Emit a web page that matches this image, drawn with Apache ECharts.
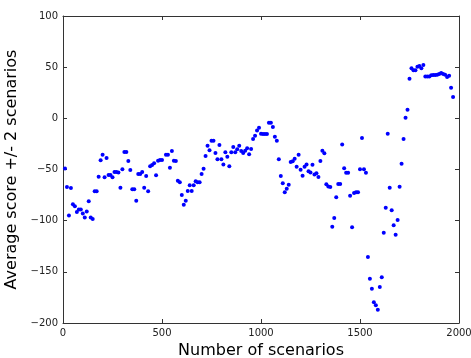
<!DOCTYPE html>
<html>
<head>
<meta charset="utf-8">
<script src="https://cdn.jsdelivr.net/npm/echarts@6/dist/echarts.min.js"></script>
<style>
html,body{margin:0;padding:0;background:#fff;}
#chart{width:471px;height:358px;}
</style>
</head>
<body>
<div id="chart"></div>
<script>
const xTicks = [0, 500, 1000, 1500, 2000];
const yTicks = [-200, -150, -100, -50, 0, 50, 100];

const scenarios = [
  10, 20, 30, 40, 50, 60, 70, 80, 90, 100,
  110, 120, 130, 140, 150, 160, 170, 180, 190, 200,
  210, 220, 230, 240, 250, 260, 270, 280, 290, 300,
  310, 320, 330, 340, 350, 360, 370, 380, 390, 400,
  410, 420, 430, 440, 450, 460, 470, 480, 490, 500,
  520, 530, 540, 550, 560, 570, 580, 590, 600, 610,
  620, 630, 640, 650, 660, 670, 680, 690, 700, 710,
  720, 730, 740, 750, 760, 770, 780, 790, 800, 810,
  820, 830, 840, 850, 860, 870, 880, 890, 900, 910,
  920, 930, 940, 950, 960, 970, 980, 990, 1000, 1010,
  1020, 1030, 1040, 1050, 1060, 1070, 1080, 1090, 1100, 1110,
  1120, 1130, 1140, 1150, 1160, 1170, 1180, 1190, 1200, 1210,
  1220, 1230, 1240, 1250, 1260, 1270, 1280, 1290, 1300, 1310,
  1320, 1330, 1340, 1350, 1360, 1370, 1380, 1390, 1400, 1410,
  1420, 1430, 1440, 1450, 1460, 1470, 1480, 1490, 1500, 1510,
  1520, 1530, 1540, 1550, 1560, 1570, 1580, 1590, 1600, 1610,
  1620, 1630, 1640, 1650, 1660, 1670, 1680, 1690, 1700, 1710,
  1720, 1730, 1740, 1750, 1760, 1770, 1780, 1790, 1800, 1810,
  1820, 1830, 1840, 1850, 1860, 1870, 1880, 1890, 1900, 1910,
  1920, 1930, 1940, 1950, 1960, 1970
];

const scores = [
  -49, -67, -95, -68, -84, -86, -91.5, -89, -89, -93,
  -97, -91, -81, -97, -98.4, -71.3, -71.3, -57, -41, -35.5,
  -57.6, -38.8, -55.4, -55.4, -57.6, -52.5, -52.5, -53, -67.8, -49.8,
  -33, -33, -41.7, -50.5, -69.4, -69.4, -80.5, -54.4, -54.4, -52.5,
  -67.8, -56.4, -71.3, -46.9, -45.6, -44, -55.7, -41.4, -40.7, -40.7,
  -35.5, -35.5, -48.2, -32, -41.4, -41.7, -61, -62.5, -75, -84.4,
  -80.5, -71, -65.5, -71, -65.5, -61.5, -62.5, -62.5, -54.4, -49.2,
  -36.8, -26.7, -31.3, -21.9, -21.9, -33.9, -40.1, -26, -40, -45,
  -33.2, -37.5, -46.9, -33.2, -28, -33.2, -30.3, -26.7, -32, -33.9,
  -31.6, -29.3, -35.2, -30, -20.2, -17, -12, -9.2, -15, -15.3,
  -15.3, -15.3, -4.3, -4.3, -8.5, -18, -22, -40, -56.4, -63.5,
  -72.3, -68.7, -64.8, -42.7, -42, -39.4, -47.2, -35.5, -50.2, -56,
  -47.2, -45, -51.8, -53, -45.3, -55, -53.7, -57.3, -41.7, -31.6,
  -34.2, -64.5, -66.5, -67, -106, -97.5, -77, -64.2, -64.2, -25.5,
  -48.8, -53.1, -53.1, -75.6, -106.5, -73, -72.3, -72.3, -49.8, -19.2,
  -49.8, -53.1, -135.5, -156.7, -166.5, -179.8, -182.7, -187, -164.8, -155.3,
  -111.8, -87.3, -15, -67.8, -89.9, -104.6, -113.7, -99.4, -66.8, -44.3,
  -20.2, 0.6, 8.5, 38.7, 48.9, 46.9, 46.9, 50.5, 51.1, 48.9,
  52.1, 41, 41, 41, 42, 42.3, 42.3, 42.6, 43.3, 44.3,
  43.3, 42.6, 40.4, 41.7, 30, 20.8
];

const points = scenarios.map((x, i) => [x, scores[i]]);

const FONT = 'DejaVu Sans';
const lineCol = '#333';
const textCol = '#222';
const fmt = v => (v < 0 ? '\u2212' + Math.abs(v) : String(v));

const chart = echarts.init(document.getElementById('chart'), null, {renderer: 'canvas'});

const axisCommon = {
  type: 'value',
  splitLine: {show: false},
  axisLine: {show: true, onZero: false, lineStyle: {color: lineCol, width: 1}},
  axisTick: {show: true, inside: true, length: 4, lineStyle: {color: lineCol, width: 1}}
};

chart.setOption({
  animation: false,
  backgroundColor: '#fff',
  grid: {left: 63, right: 12, top: 16, bottom: 35, containLabel: false, outerBoundsMode: 'none'},
  xAxis: [
    Object.assign({}, axisCommon, {
      position: 'bottom', min: xTicks[0], max: xTicks[xTicks.length - 1], interval: 500,
      name: 'Number of scenarios', nameLocation: 'middle', nameGap: 16,
      nameTextStyle: {fontFamily: FONT, fontSize: 16, color: '#000'},
      axisLabel: {fontFamily: FONT, fontSize: 10, color: textCol, margin: 5, formatter: fmt}
    }),
    Object.assign({}, axisCommon, {
      position: 'top', min: xTicks[0], max: xTicks[xTicks.length - 1], interval: 500,
      axisLabel: {show: false}
    })
  ],
  yAxis: [
    Object.assign({}, axisCommon, {
      position: 'left', min: yTicks[0], max: yTicks[yTicks.length - 1], interval: 50,
      name: 'Average score +/- 2 scenarios', nameLocation: 'middle', nameGap: 35, nameRotate: 90,
      nameTextStyle: {fontFamily: FONT, fontSize: 16, color: '#000'},
      axisLabel: {fontFamily: FONT, fontSize: 10, color: textCol, margin: 5, formatter: fmt}
    }),
    Object.assign({}, axisCommon, {
      position: 'right', min: yTicks[0], max: yTicks[yTicks.length - 1], interval: 50,
      axisLabel: {show: false}
    })
  ],
  series: [{
    type: 'scatter',
    xAxisIndex: 0, yAxisIndex: 0,
    data: points,
    symbol: 'circle',
    symbolSize: 4,
    itemStyle: {color: '#0000ff', opacity: 1},
    silent: true
  }]
});
</script>
</body>
</html>
